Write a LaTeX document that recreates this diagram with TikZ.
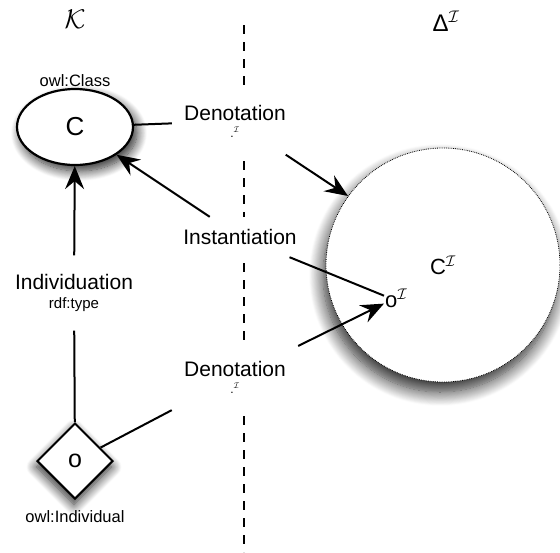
\RequirePackage{fix-cm}
\documentclass[tikz,border=0pt]{standalone}
\usepackage{fontspec}
\setmainfont{Liberation Sans}
\usetikzlibrary{arrows.meta,calc,positioning,shapes.geometric,shadows.blur}
\definecolor{OntoInk}{HTML}{000000}
\newcommand{\ontoI}{\mathcal{I}}
\tikzset{
  onto label/.style={fill=white,inner sep=0pt,align=center,
    font=\fontsize{21}{23}\selectfont},
  onto small/.style={inner sep=1pt,font=\fontsize{16.5}{18}\selectfont},
  onto line/.style={OntoInk,line width=2pt},
  onto arrow/.style={onto line,-{Stealth[length=23pt,width=19pt,inset=8pt]}},
  onto shadow/.style={blur shadow={shadow xshift=4pt,shadow yshift=-6pt,
    shadow blur radius=10pt,shadow blur steps=14,shadow opacity=85}},
}

\begin{document}
\begin{tikzpicture}[x=1pt,y=-1pt]

        \useasboundingbox (0,0) rectangle (560,552);

        % the cut between the two sides
        \draw[OntoInk,line width=2pt,dash pattern=on 9pt off 8pt]
          (244,25) -- (244,552);

        \node[font=\fontsize{27}{29}\selectfont] (kb) at (75,19)
          {$\mathcal{K}$};
        \node[font=\fontsize{24}{26}\selectfont] (dom) at (446,21)
          {Δ$^{\ontoI}$};

        % left side
        \node[ellipse,draw,line width=2.2pt,fill=white,onto shadow,
          minimum width=116pt,minimum height=76pt,
          font=\fontsize{26}{28}\selectfont]
          (class) at (75,127) {C};
        \node[onto small,above=0pt of class] (classname) {owl:Class};

        \node[diamond,draw,line width=2pt,fill=white,
          blur shadow={shadow xshift=-1pt,shadow yshift=-6pt,
            shadow blur radius=10pt,shadow blur steps=14,shadow opacity=85},
          minimum width=76pt,minimum height=76pt,inner sep=0pt,
          font=\fontsize{25}{26}\selectfont]
          (ind) at (75,461) {o};
        \node[onto small,below=9pt of ind] (indname) {owl:Individual};

        % right side
        \node[circle,draw,densely dotted,line width=0.8pt,fill=white,
          minimum size=234pt,inner sep=0pt,
          blur shadow={shadow xshift=-3pt,shadow yshift=-10pt,
            shadow blur radius=14pt,shadow blur steps=16,shadow opacity=85},
          font=\fontsize{22}{24}\selectfont]
          (ext) at (443,265) {C$^{\ontoI}$};
        \node[inner sep=1pt,anchor=base west,
          font=\fontsize{22}{24}\selectfont]
          (obj) at (384,307) {o$^{\ontoI}$};

        % relation labels
        \node[onto label,minimum width=126pt,minimum height=67pt]
          (den1) at (235,121)
          {Denotation\\[-6pt]{\fontsize{12}{12}\selectfont .$^{\ontoI}$}};
        \node[onto label,minimum width=124pt,minimum height=40pt]
          (inst) at (240,237) {Instantiation};
        \node[onto label,minimum height=75pt]
          (indiv) at (74,293)
          {Individuation\\[-4pt]{\fontsize{15}{16}\selectfont rdf:type}};
        \node[onto label,minimum width=126pt,minimum height=72pt]
          (den2) at (235,377)
          {Denotation\\[-6pt]{\fontsize{12}{12}\selectfont .$^{\ontoI}$}};

        \draw[onto line] (class) -- (den1);
        \draw[onto arrow] (den1) -- (ext.144);
        \draw[onto arrow] (inst) -- (class);
        \draw[onto line] (inst) -- (obj.170);
        \draw[onto arrow] (den2) -- (obj.205);
        \draw[onto line] (ind) -- (den2);
        \draw[onto arrow] (indiv) -- (class);
        \draw[onto line] (indiv) -- (ind);

      \end{tikzpicture}
\end{document}
